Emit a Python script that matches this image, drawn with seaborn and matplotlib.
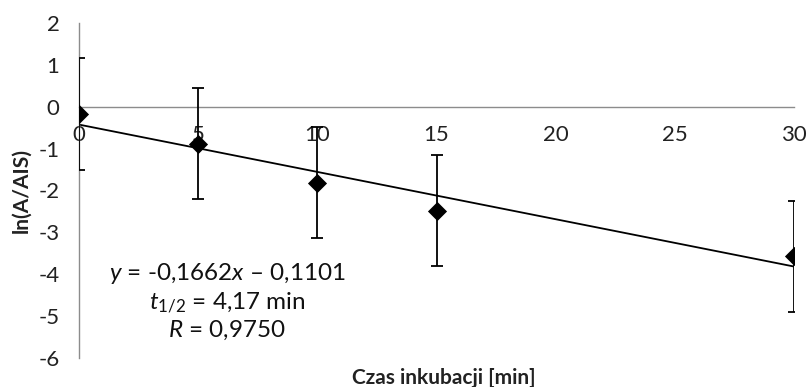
import numpy as np
import pandas as pd
import matplotlib
matplotlib.use("Agg")
import matplotlib.pyplot as plt
import seaborn as sns

# Data
time_min = [0, 5, 10, 15, 30]
ln_ratio = [-0.17, -0.88, -1.81, -2.48, -3.57]
err = [1.33, 1.33, 1.32, 1.33, 1.33]
x_ticks = [0, 5, 10, 15, 20, 25, 30]
y_ticks = [-6, -5, -4, -3, -2, -1, 0, 1, 2]
eq_lines = [r"$\mathit{y}$ = -0,1662$\mathit{x}$ – 0,1101",
            r"$\mathit{t}_{\mathit{1/2}}$ = 4,17 min",
            r"$\mathit{R}$ = 0,9750"]

sns.set_style("white")
plt.rcParams['font.family'] = ['Lato', 'DejaVu Sans']
plt.rcParams['mathtext.fontset'] = 'custom'
plt.rcParams['mathtext.rm'] = 'Lato'
plt.rcParams['mathtext.it'] = 'Lato:italic'
plt.rcParams['mathtext.bf'] = 'Lato:bold'

df = pd.DataFrame({"t": time_min, "v": ln_ratio, "e": err})

fig = plt.figure(figsize=(8.07, 3.87), dpi=100)
ax = fig.add_axes([79/807, 1-358/387, 715/807, 335/387])

ax.errorbar(df["t"], df["v"], yerr=df["e"], fmt="none", ecolor="black",
            elinewidth=1.3, capsize=4, capthick=1.3, zorder=3)
sns.regplot(data=df, x="t", y="v", scatter=False, ci=None, ax=ax,
            line_kws=dict(color="black", lw=1.3, zorder=2))
sns.scatterplot(data=df, x="t", y="v", marker="D", s=95, color="black",
                edgecolor="black", linewidth=0, ax=ax, zorder=4)

ax.set_xlim(0, 30)
ax.set_ylim(-6, 2)
ax.set_xticks(x_ticks)
ax.set_yticks(y_ticks)
ax.set_xticklabels([str(v) for v in x_ticks])
ax.set_yticklabels([str(v) for v in y_ticks])

gray = "#8c8c8c"
ax.spines['top'].set_visible(False)
ax.spines['right'].set_visible(False)
ax.spines['bottom'].set_position(('data', 0))
for s in ['left', 'bottom']:
    ax.spines[s].set_color(gray)
    ax.spines[s].set_linewidth(1.0)
ax.tick_params(axis='both', direction='out', length=5, width=1.0, color=gray,
               labelsize=16, labelcolor="#222222")
ax.tick_params(axis='y', pad=9)
ax.tick_params(axis='x', pad=8)

ax.set_xlabel("")
ax.set_ylabel("ln(A/AIS)", fontsize=15, fontweight='bold', color="#222222")
ax.yaxis.set_label_coords(-0.066, 0.5)
fig.text(444/807, 1-378/387, "Czas inkubacji [min]", fontsize=15,
         fontweight='bold', ha='center', va='center', color="#222222")

ys = [273, 303, 330]
for line, yp in zip(eq_lines, ys):
    fig.text(227/807, 1-yp/387, line, fontsize=17.5, ha='center', va='center',
             color="#111111")

fig.savefig("out.png", dpi=100)
